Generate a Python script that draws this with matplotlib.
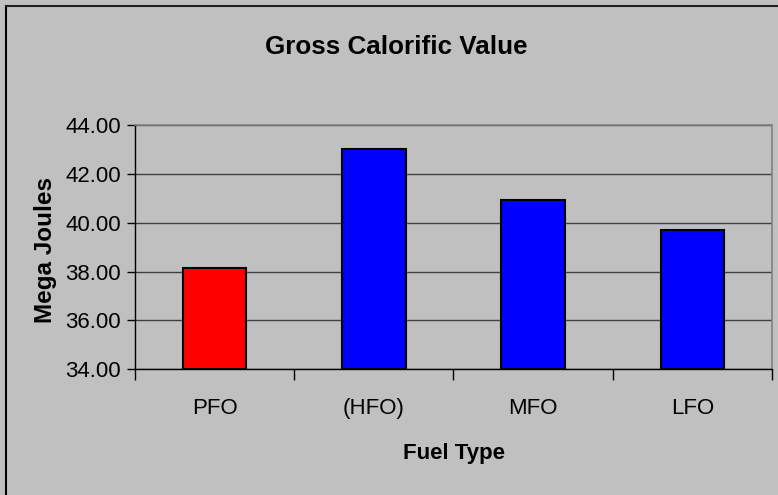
import matplotlib.pyplot as plt
import matplotlib.ticker as mticker
from matplotlib.lines import Line2D
import numpy as np

plt.rcParams['font.family'] = ['Liberation Sans', 'DejaVu Sans']

fuels = ['PFO', '(HFO)', 'MFO', 'LFO']
calorific = [38.15, 43.0, 40.93, 39.70]
bar_colors = ['#FF0000', '#0000FF', '#0000FF', '#0000FF']

bg = '#C0C0C0'
fig = plt.figure(figsize=(7.78, 4.95), dpi=100, facecolor=bg)
ax = fig.add_axes([0.1735, 0.2539, 0.8188, 0.4936], facecolor=bg)

x = np.arange(len(fuels))
ax.bar(x, [v - 34 for v in calorific], bottom=34, width=0.4,
       color=bar_colors, edgecolor='black', linewidth=1.5, zorder=3)

ax.set_xlim(-0.5, len(fuels) - 0.5)
ax.set_ylim(34, 44)
ax.yaxis.set_major_locator(mticker.MultipleLocator(2))
ax.yaxis.set_major_formatter(mticker.FormatStrFormatter('%.2f'))
ax.grid(axis='y', color='#404040', linewidth=1.0, zorder=0)

# category boundaries get the tick marks, centres get the labels
ax.set_xticks(np.arange(-0.5, len(fuels), 1.0))
ax.set_xticklabels([])
ax.set_xticks(x, minor=True)
ax.set_xticklabels(fuels, minor=True)
ax.tick_params(axis='x', which='major', direction='out', length=8, width=1, color='black')
ax.tick_params(axis='x', which='minor', length=0, pad=21, labelsize=16)
ax.tick_params(axis='y', direction='out', length=6, width=1, color='black', labelsize=16, pad=4)

for side in ['top', 'right']:
    ax.spines[side].set_color('#808080')
    ax.spines[side].set_linewidth(1.2)
for side in ['left', 'bottom']:
    ax.spines[side].set_color('black')
    ax.spines[side].set_linewidth(1.0)

fig.text(0.509, 0.905, 'Gross Calorific Value', ha='center', va='center',
         fontsize=18.7, fontweight='bold')
fig.text(0.583, 0.083, 'Fuel Type', ha='center', va='center',
         fontsize=16, fontweight='bold')
fig.text(0.058, 0.495, 'Mega Joules', ha='center', va='center',
         rotation=90, fontsize=17.5, fontweight='bold')

# outer chart border (left and top edges)
fig.add_artist(Line2D([5.5 / 778, 5.5 / 778], [0, 1 - 6 / 495], color='black',
                      linewidth=1.5, transform=fig.transFigure))
fig.add_artist(Line2D([5.5 / 778, 1], [1 - 6 / 495, 1 - 6 / 495], color='#202020',
                      linewidth=1.5, transform=fig.transFigure))

fig.savefig('out.png', dpi=100, facecolor=bg)
